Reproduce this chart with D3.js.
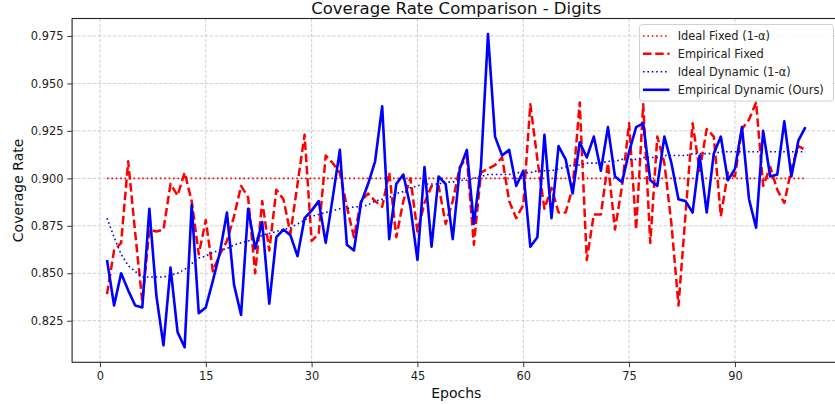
<!DOCTYPE html>
<html>
<head>
<meta charset="utf-8">
<script src="https://cdn.jsdelivr.net/npm/d3@7"></script>
<style>
html,body{margin:0;padding:0;background:#fff;}
svg{display:block;font-family:"DejaVu Sans",sans-serif;}
</style>
</head>
<body>
<svg id="chart" width="835" height="404"></svg>
<script>
const epochs = d3.range(1, 101);

const idealFixed = 0.9;

const empiricalFixed = [
0.839,0.862,0.866,0.909,0.871,0.835,0.873,0.872,0.873,0.897,
0.891,0.903,0.888,0.860,0.878,0.851,0.860,0.867,0.880,0.896,
0.890,0.850,0.888,0.862,0.894,0.889,0.871,0.897,0.923,0.867,
0.871,0.912,0.908,0.903,0.885,0.869,0.888,0.892,0.888,0.885,
0.903,0.869,0.888,0.900,0.872,0.887,0.896,0.896,0.876,0.888,
0.906,0.911,0.865,0.903,0.905,0.907,0.911,0.888,0.879,0.886,
0.939,0.910,0.884,0.895,0.882,0.882,0.895,0.940,0.857,0.881,
0.881,0.908,0.873,0.896,0.929,0.873,0.939,0.866,0.922,0.908,
0.876,0.833,0.881,0.929,0.904,0.926,0.922,0.880,0.903,0.901,
0.926,0.931,0.940,0.896,0.906,0.894,0.887,0.905,0.917,0.915
];

const idealDynamic = [
0.879,0.869,0.860,0.854,0.851,0.848,0.848,0.848,0.848,0.849,
0.850,0.852,0.855,0.858,0.859,0.861,0.862,0.863,0.865,0.866,
0.867,0.868,0.870,0.871,0.872,0.873,0.874,0.876,0.878,0.880,
0.881,0.882,0.883,0.884,0.884,0.885,0.885,0.886,0.888,0.889,
0.890,0.892,0.893,0.895,0.896,0.897,0.897,0.897,0.898,0.898,
0.899,0.899,0.900,0.901,0.902,0.902,0.902,0.902,0.903,0.903,
0.903,0.904,0.904,0.904,0.905,0.906,0.907,0.907,0.908,0.908,
0.908,0.909,0.909,0.910,0.910,0.910,0.911,0.911,0.911,0.912,
0.912,0.912,0.912,0.913,0.913,0.913,0.913,0.914,0.914,0.914,
0.914,0.914,0.914,0.914,0.914,0.914,0.914,0.914,0.914,0.914
];

const empiricalDynamic = [
0.857,0.833,0.850,0.841,0.833,0.832,0.884,0.838,0.812,0.853,
0.819,0.811,0.886,0.829,0.832,0.846,0.861,0.882,0.844,0.828,
0.884,0.863,0.877,0.834,0.869,0.873,0.870,0.859,0.879,0.883,
0.888,0.866,0.890,0.915,0.865,0.862,0.887,0.897,0.909,0.938,
0.868,0.897,0.902,0.885,0.857,0.906,0.864,0.901,0.897,0.868,
0.905,0.915,0.876,0.906,0.976,0.922,0.912,0.915,0.896,0.904,
0.864,0.869,0.923,0.879,0.917,0.910,0.892,0.919,0.911,0.922,
0.904,0.927,0.901,0.898,0.914,0.927,0.929,0.899,0.896,0.922,
0.908,0.889,0.888,0.882,0.912,0.882,0.913,0.922,0.899,0.905,
0.927,0.889,0.874,0.925,0.901,0.902,0.930,0.901,0.920,0.927
];

const yTicks = [0.825,0.850,0.875,0.900,0.925,0.950,0.975];
const xTicks = [0,15,30,45,60,75,90];

const titleText = "Coverage Rate Comparison - Digits";
const xLabel = "Epochs";
const yLabel = "Coverage Rate";
const legendLabels = ["Ideal Fixed (1-\u03b1)","Empirical Fixed","Ideal Dynamic (1-\u03b1)","Empirical Dynamic (Ours)"];

const svg = d3.select("#chart");
const L = 72.1, R = 840.4, T = 18.5, B = 362.3;

const x = d3.scaleLinear().domain([-3.95, 104.95]).range([L, R]);
const y = d3.scaleLinear().domain([0.8031, 0.9842]).range([B, T]);

// grid
const grid = svg.append("g");
grid.selectAll("line.gx").data(xTicks).enter().append("line")
  .attr("x1", d => x(d)).attr("x2", d => x(d)).attr("y1", T).attr("y2", B)
  .attr("stroke", "#c4c4c4").attr("stroke-width", 0.8).attr("stroke-dasharray", "3.5,1.6");
grid.selectAll("line.gy").data(yTicks).enter().append("line")
  .attr("x1", L).attr("x2", R).attr("y1", d => y(d)).attr("y2", d => y(d))
  .attr("stroke", "#c4c4c4").attr("stroke-width", 0.8).attr("stroke-dasharray", "3.5,1.6");

// axes
const xAxis = svg.append("g").attr("transform", `translate(0,${B})`)
  .call(d3.axisBottom(x).tickValues(xTicks).tickFormat(d3.format("d")).tickSize(4.9).tickSizeOuter(0).tickPadding(4.3));
const yAxis = svg.append("g").attr("transform", `translate(${L},0)`)
  .call(d3.axisLeft(y).tickValues(yTicks).tickFormat(d3.format(".3f")).tickSize(4.9).tickSizeOuter(0).tickPadding(3.8));
[xAxis, yAxis].forEach(a => {
  a.select(".domain").remove();
  a.selectAll(".tick line").attr("stroke", "#222").attr("stroke-width", 0.9);
  a.selectAll(".tick text").attr("font-family", "DejaVu Sans").attr("font-size", 11.4).attr("fill", "#222");
});

// lines
const line = (arr) => d3.line().x((d, i) => x(epochs[i])).y(d => y(d))(arr);
const plot = svg.append("g");
plot.append("path").attr("d", line(epochs.map(() => idealFixed)))
  .attr("fill", "none").attr("stroke", "red").attr("stroke-width", 1.6).attr("stroke-dasharray", "1.6,2.8");
plot.append("path").attr("d", line(empiricalFixed))
  .attr("fill", "none").attr("stroke", "red").attr("stroke-width", 2.5).attr("stroke-dasharray", "8.5,3.7")
  .attr("stroke-linejoin", "round");
plot.append("path").attr("d", line(idealDynamic))
  .attr("fill", "none").attr("stroke", "blue").attr("stroke-width", 1.6).attr("stroke-dasharray", "1.6,2.8");
plot.append("path").attr("d", line(empiricalDynamic))
  .attr("fill", "none").attr("stroke", "blue").attr("stroke-width", 2.6).attr("stroke-linejoin", "round");

// frame
svg.append("rect").attr("x", L).attr("y", T).attr("width", R - L).attr("height", B - T)
  .attr("fill", "none").attr("stroke", "#222").attr("stroke-width", 1.1);

// title & labels
svg.append("text").attr("x", (L + R) / 2).attr("y", 13.5).attr("text-anchor", "middle")
  .attr("font-size", 16.5).attr("fill", "#111").text(titleText);
svg.append("text").attr("x", (L + R) / 2).attr("y", 398).attr("text-anchor", "middle")
  .attr("font-size", 14).attr("fill", "#111").text(xLabel);
svg.append("text").attr("transform", `translate(23,${(T + B) / 2}) rotate(-90)`).attr("text-anchor", "middle")
  .attr("font-size", 14).attr("fill", "#111").text(yLabel);

// legend
const lg = svg.append("g");
lg.append("rect").attr("x", 639.5).attr("y", 24.5).attr("width", 194).attr("height", 76.5)
  .attr("rx", 3).attr("fill", "rgba(255,255,255,0.85)").attr("stroke", "#d0d0d0").attr("stroke-width", 1);
const styles = [
  {c: "red", w: 1.6, d: "1.6,2.8"},
  {c: "red", w: 2.5, d: "8.5,3.7"},
  {c: "blue", w: 1.6, d: "1.6,2.8"},
  {c: "blue", w: 2.6, d: null}
];
const rowY = [36, 53.8, 71.8, 89.8];
legendLabels.forEach((lab, i) => {
  const s = styles[i];
  const l = lg.append("line").attr("x1", 643).attr("x2", 669.5).attr("y1", rowY[i]).attr("y2", rowY[i])
    .attr("stroke", s.c).attr("stroke-width", s.w);
  if (s.d) l.attr("stroke-dasharray", s.d);
  lg.append("text").attr("x", 677.7).attr("y", rowY[i] + 4.2).attr("font-size", 11.4).attr("fill", "#222").text(lab);
});
</script>
</body>
</html>
